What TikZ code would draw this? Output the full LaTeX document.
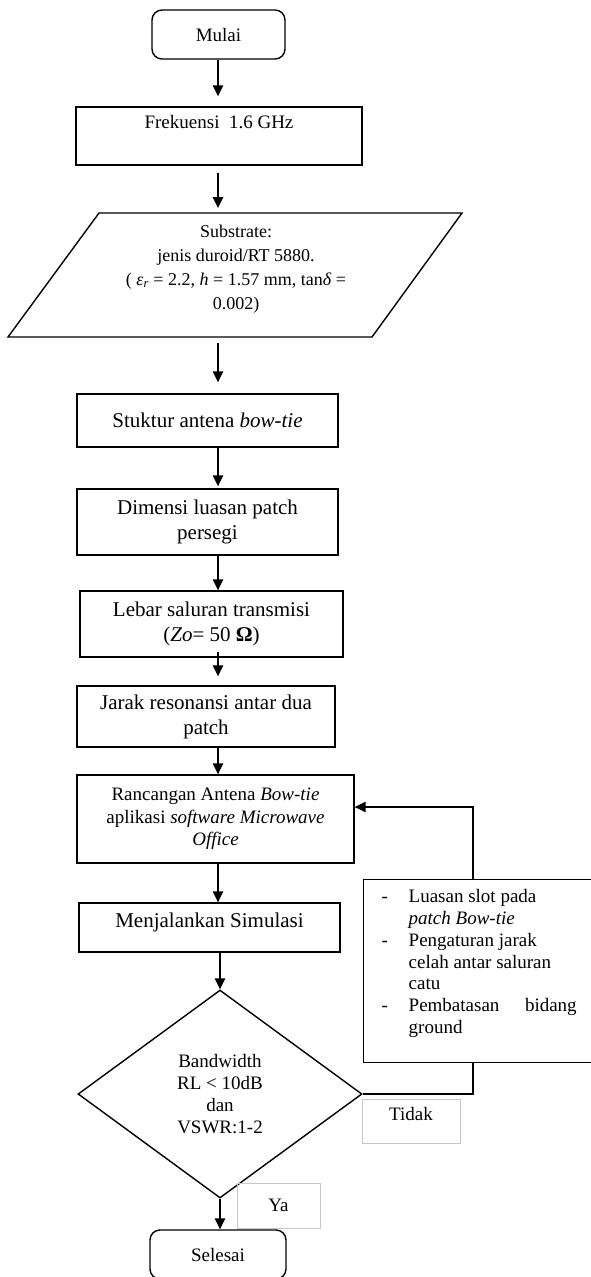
\documentclass[tikz,border=0pt]{standalone}
\usepackage{fontspec}
\setmainfont{Liberation Serif}
\usetikzlibrary{shapes.geometric,arrows.meta}
\begin{document}
\begin{tikzpicture}[x=1pt,y=-1pt,line width=1.4pt,
  arr/.style={draw,-{Triangle[width=10.5pt,length=11pt]}},
  fbox/.style={draw,rectangle,inner sep=0pt,align=center},
  big/.style={font=\fontsize{21}{25}\selectfont},
  mid/.style={font=\fontsize{19}{22.5}\selectfont},
  term/.style={fbox,rounded corners=10pt,font=\fontsize{19}{22}\selectfont},
  lbl/.style={draw=black!22,line width=0.8pt,rectangle,inner sep=0pt,align=center,font=\fontsize{19}{22}\selectfont}]
\useasboundingbox (0,0) rectangle (590,1277);
\fill[white] (0,0) rectangle (590,1277);
\coordinate (ax) at (218,0);
% nodes
\node[term,minimum width=133pt,minimum height=49pt] (mulai) at (218.5,34.5) {Mulai};
\node[fbox,minimum width=286pt,minimum height=58pt,font=\fontsize{19}{22}\selectfont] (frek) at (219,136) {Frekuensi\ \ 1.6 GHz\\ \strut};
\draw (99,213) -- (462,213) -- (372,337) -- (8,337) -- cycle;
\node[font=\fontsize{18}{24}\selectfont,align=center,inner sep=0pt] (subs) at (236,269)
  {Substrate:\\ jenis duroid/RT 5880.\\ ( \textit{ε}\textsubscript{\textit{r}} = 2.2, \textit{h} = 1.57 mm, tan\textit{δ} =\\ 0.002)};
\coordinate (subsT) at (218,213);
\coordinate (subsB) at (218,337);
\node[fbox,big,minimum width=261pt,minimum height=53pt] (stk) at (207.5,420.5) {Stuktur antena \textit{bow-tie}};
\node[fbox,big,minimum width=261pt,minimum height=66pt] (dim) at (207.5,522) {Dimensi luasan patch\\persegi};
\node[fbox,big,minimum width=263pt,minimum height=66pt] (leb) at (211.5,624) {Lebar saluran transmisi\\(\textit{Zo}= 50 \textbf{Ω})};
\node[fbox,big,minimum width=258pt,minimum height=61pt] (jar) at (206,716.5) {Jarak resonansi antar dua\\patch};
\node[fbox,mid,minimum width=277pt,minimum height=88pt] (ranc) at (215.5,819) {Rancangan Antena \textit{Bow-tie}\\aplikasi \textit{software Microwave}\\\textit{Office}};
\node[fbox,big,minimum width=261pt,minimum height=49pt] (menj) at (209.5,927.5) {Menjalankan Simulasi\\[-10pt]\mbox{}};
\node[draw,diamond,inner sep=0pt,minimum width=284pt,minimum height=208pt,align=center,font=\fontsize{19}{21.7}\selectfont] (dia) at (220,1094) {Bandwidth\\RL < 10dB\\dan\\VSWR:1-2};
\node[draw,rectangle,inner sep=0pt,minimum width=232pt,minimum height=183pt,anchor=north west] (luas) at (363,879) {};
\node[anchor=north west,inner sep=0pt,font=\fontsize{19}{21.7}\selectfont] (luastxt) at (381,887)
  {\begin{tabular}{@{}p{27pt}@{}l@{}}
  - & Luasan slot pada\\
    & \textit{patch Bow-tie}\\
  - & Pengaturan jarak\\
    & celah antar saluran\\
    & catu\\
  - & \makebox[168pt][s]{Pembatasan\hfill bidang}\\
    & ground
  \end{tabular}};
\node[lbl,minimum width=98pt,minimum height=44pt] (tidak) at (411,1121) {Tidak\\[-8pt]\mbox{}};
\node[lbl,minimum width=83pt,minimum height=45pt] (ya) at (278.5,1205.5) {Ya};
\node[term,minimum width=136pt,minimum height=49pt] (sel) at (218,1254.5) {Selesai};
% connectors
\draw[arr,shorten >=10pt] (mulai.south -| ax) -- (frek.north -| ax);
\draw[arr,shorten <=7pt,shorten >=5pt] (frek.south -| ax) -- (subsT);
\draw[arr,shorten <=6pt,shorten >=11pt] (subsB) -- (stk.north -| ax);
\draw[arr,shorten >=2pt] (stk.south -| ax) -- (dim.north -| ax);
\draw[arr] (dim.south -| ax) -- (leb.north -| ax);
\draw[arr,shorten <=-6pt,shorten >=9pt] (leb.south -| ax) -- (jar.north -| ax);
\draw[arr] (jar.south -| ax) -- (ranc.north -| ax);
\draw[arr] (ranc.south -| ax) -- (menj.north -| ax);
\draw[arr] (menj.south -| dia.north) -- (dia.north);
\draw[arr] (dia.south) -- (sel.north -| dia.south);
\coordinate (fb) at (473,807);
\draw (dia.east) -- (dia.east -| fb) -- (luas.south -| fb);
\draw[arr] (luas.north -| fb) -- (fb) -- (fb -| ranc.east);
\end{tikzpicture}
\end{document}
